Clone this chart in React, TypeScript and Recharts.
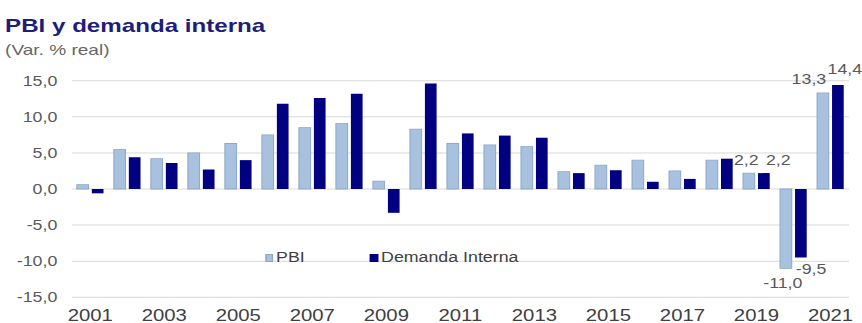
import React from 'react';
import { BarChart, Bar, XAxis, YAxis, CartesianGrid, Legend, LabelList } from 'recharts';

// Var. % real, 2001-2021
const years = [
  '2001', '2002', '2003', '2004', '2005', '2006', '2007', '2008', '2009', '2010', '2011',
  '2012', '2013', '2014', '2015', '2016', '2017', '2018', '2019', '2020', '2021',
];
const pbi = [0.6, 5.5, 4.2, 5.0, 6.3, 7.5, 8.5, 9.1, 1.1, 8.3, 6.3, 6.1, 5.9, 2.4, 3.3, 4.0, 2.5, 4.0, 2.2, -11.0, 13.3];
const demanda = [-0.6, 4.4, 3.6, 2.7, 4.0, 11.8, 12.6, 13.2, -3.3, 14.6, 7.7, 7.4, 7.1, 2.2, 2.6, 1.0, 1.4, 4.2, 2.2, -9.5, 14.4];
const yTicks = [-15, -10, -5, 0, 5, 10, 15];
const labelYears = ['2019', '2020', '2021'];
const seriesNames = ['PBI', 'Demanda Interna'];

const data = years.map((year, i) => ({ year, pbi: pbi[i], demanda: demanda[i] }));

// the source image is stretched horizontally, so the whole chart is drawn narrower and scaled
const STRETCH = 1.27;
const FONT = 'Liberation Sans, Arial, sans-serif';
const PBI_COLOR = '#a8c1de';
const DEM_COLOR = '#000080';

const fmt = (v: number) => v.toFixed(1).replace('.', ',');

// small nudges so the value labels sit where the original put them
const makeLabel = (dx: Record<string, number>, above: Record<string, number>, below: number) =>
  (props: any) => {
    const year = years[props.index];
    if (!labelYears.includes(year)) return null;
    const vb = props.viewBox ?? props;
    const x = Number(vb.x);
    const y = Number(vb.y);
    const w = Number(vb.width);
    const h = Number(vb.height);
    const value = Number(props.value);
    const top = Math.min(y, y + h);
    const bottom = Math.max(y, y + h);
    const ty = value >= 0 ? top - (above[year] ?? 8) : bottom + below + 10;
    return (
      <text
        x={x + w / 2 + (dx[year] ?? 0)}
        y={ty}
        textAnchor="middle"
        fontSize={14}
        fontFamily={FONT}
        fill="#595959"
      >
        {fmt(value)}
      </text>
    );
  };

const pbiLabel = makeLabel({ '2019': -2, '2020': -2.4, '2021': -11 }, { '2019': 8, '2021': 9 }, 10);
const demLabel = makeLabel({ '2019': 11.4, '2020': 8, '2021': 5.5 }, { '2019': 8, '2021': 11 }, 6);

const renderLegend = (props: any) => {
  const items = [...(props.payload ?? [])].sort(
    (a: any, b: any) => seriesNames.indexOf(a.value) - seriesNames.indexOf(b.value)
  );
  return (
    <div style={{ display: 'flex', fontFamily: FONT, fontSize: 14, lineHeight: '14px', color: '#404040' }}>
      {items.map((it: any, i: number) => (
        <div key={it.value} style={{ display: 'flex', alignItems: 'flex-start', marginRight: i === 0 ? 51.4 : 0 }}>
          <div
            style={{
              width: 6.3,
              height: 8,
              flexShrink: 0,
              marginTop: 4,
              marginRight: 2.4,
              background: it.color,
              boxSizing: 'border-box',
              border: it.value === 'PBI' ? '1px solid #8ea8c6' : 'none',
            }}
          />
          <span style={{ whiteSpace: 'nowrap' }}>{it.value}</span>
        </div>
      ))}
    </div>
  );
};

export default function App() {
  const innerWidth = 862 / STRETCH;
  return (
    <div
      style={{
        position: 'absolute',
        left: 0,
        top: 0,
        width: innerWidth,
        height: 323,
        transform: `scaleX(${STRETCH})`,
        transformOrigin: 'left top',
        background: '#fff',
        fontFamily: FONT,
      }}
    >
      <div
        style={{
          position: 'absolute',
          left: 4,
          top: 16,
          fontSize: 19,
          lineHeight: '19px',
          fontWeight: 'bold',
          color: '#1d1d7a',
          whiteSpace: 'nowrap',
        }}
      >
        PBI y demanda interna
      </div>
      <div
        style={{
          position: 'absolute',
          left: 4,
          top: 42,
          fontSize: 15,
          lineHeight: '15px',
          color: '#666666',
          whiteSpace: 'nowrap',
        }}
      >
        (Var. % real)
      </div>
      <BarChart
        width={innerWidth}
        height={323}
        data={data}
        margin={{ top: 80.7, right: innerWidth - 668.5, bottom: 0, left: 0 }}
        barGap={2.6}
        barSize={9.2}
      >
        <CartesianGrid vertical={false} stroke="#d9d9d9" strokeWidth={1} />
        <XAxis
          dataKey="year"
          interval={1}
          axisLine={false}
          tickLine={false}
          tickSize={0}
          tickMargin={12}
          height={25.7}
          tick={{ fontSize: 16, fill: '#404040', fontFamily: FONT }}
        />
        <YAxis
          domain={[-15, 15]}
          ticks={yTicks}
          tickFormatter={fmt}
          axisLine={false}
          tickLine={false}
          tickSize={0}
          tickMargin={11.4}
          width={56.5}
          tick={{ fontSize: 14, fill: '#595959', fontFamily: FONT }}
        />
        <Legend
          layout="horizontal"
          verticalAlign="middle"
          align="center"
          content={renderLegend}
          wrapperStyle={{ left: 208.7, top: 249.6, width: 'auto' }}
        />
        <Bar dataKey="pbi" name="PBI" fill={PBI_COLOR} stroke="#8ea8c6" strokeWidth={0.8} isAnimationActive={false}>
          <LabelList dataKey="pbi" content={pbiLabel} />
        </Bar>
        <Bar dataKey="demanda" name="Demanda Interna" fill={DEM_COLOR} isAnimationActive={false}>
          <LabelList dataKey="demanda" content={demLabel} />
        </Bar>
      </BarChart>
    </div>
  );
}
